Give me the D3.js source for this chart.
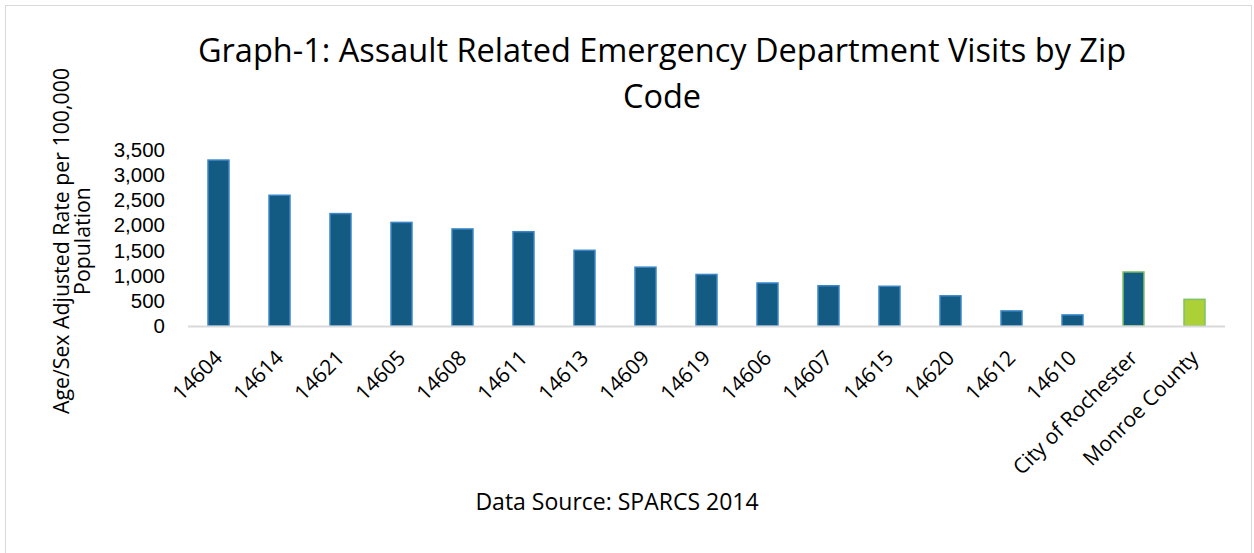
<!DOCTYPE html>
<html>
<head>
<meta charset="utf-8">
<script src="https://cdn.jsdelivr.net/npm/d3@7"></script>
<style>
  body { margin: 0; background: #fff; }
  text { font-family: "Open Sans", sans-serif; fill: #000; }
</style>
</head>
<body>
<div id="chart"></div>
<script>
var zipCodes = ["14604", "14614", "14621", "14605", "14608", "14611", "14613", "14609",
                "14619", "14606", "14607", "14615", "14620", "14612", "14610",
                "City of Rochester", "Monroe County"];
var visitRates = [3300, 2600, 2235, 2060, 1930, 1875, 1505, 1170,
                  1025, 855, 800, 790, 600, 300, 220,
                  1075, 530];
var yTicks = [0, 500, 1000, 1500, 2000, 2500, 3000, 3500];

var W = 1254, H = 553;

var svg = d3.select("#chart").append("svg")
  .attr("width", W)
  .attr("height", H);

svg.append("rect")
  .attr("width", W).attr("height", H)
  .attr("fill", "#fff");

// outer chart frame
svg.append("rect")
  .attr("x", 5.5).attr("y", 5.5)
  .attr("width", 1246).attr("height", 560)
  .attr("fill", "none")
  .attr("stroke", "#d9d9d9")
  .attr("stroke-width", 1);

var x = d3.scaleBand()
  .domain(zipCodes)
  .range([188, 1225])
  .paddingInner(0.656)
  .paddingOuter(0.328);

var y = d3.scaleLinear()
  .domain([0, 3500])
  .range([326, 150]);

// title
var title = svg.append("text")
  .attr("text-anchor", "middle")
  .style("font-size", "32.5px");
title.append("tspan").attr("x", 662).attr("y", 62)
  .text("Graph-1: Assault Related Emergency Department Visits by Zip");
title.append("tspan").attr("x", 662).attr("y", 108)
  .text("Code");

// y axis title
var yTitle = svg.append("text")
  .attr("transform", "translate(0,241) rotate(-90)")
  .attr("text-anchor", "middle")
  .style("font-size", "21.3px");
yTitle.append("tspan").attr("x", 0).attr("y", 69).text("Age/Sex Adjusted Rate per 100,000");
yTitle.append("tspan").attr("x", 0).attr("y", 90).text("Population");

// y axis ticks
var yAxis = d3.axisLeft(y)
  .tickValues(yTicks)
  .tickFormat(d3.format(","))
  .tickSize(0)
  .tickPadding(0);

var yg = svg.append("g")
  .attr("transform", "translate(165,0)")
  .call(yAxis);
yg.select(".domain").remove();
yg.selectAll("text")
  .style("font-size", "20.5px")
  .style("font-family", "'Liberation Sans', sans-serif")
  .attr("fill", "#000");

// bars
svg.selectAll("rect.bar")
  .data(zipCodes)
  .enter().append("rect")
  .attr("class", "bar")
  .attr("x", function (d) { return x(d); })
  .attr("width", x.bandwidth())
  .attr("y", function (d, i) { return y(visitRates[i]); })
  .attr("height", function (d, i) { return y(0) - y(visitRates[i]); })
  .attr("fill", function (d) { return d == "Monroe County" ? "#acd136" : "#145b84"; })
  .attr("stroke", function (d) {
    return (d == "Monroe County" || d == "City of Rochester") ? "#80c066" : "#3a86c8";
  })
  .attr("stroke-width", 1.5);

// category axis line
svg.append("line")
  .attr("x1", 188).attr("x2", 1225)
  .attr("y1", y(0) + 0.5).attr("y2", y(0) + 0.5)
  .attr("stroke", "#d9d9d9")
  .attr("stroke-width", 2);

// x labels
svg.selectAll("text.xlab")
  .data(zipCodes)
  .enter().append("text")
  .attr("class", "xlab")
  .attr("transform", function (d) {
    return "translate(" + (x(d) + x.bandwidth() / 2) + ",354) rotate(-45)";
  })
  .attr("text-anchor", "end")
  .attr("dy", "0.35em")
  .style("font-size", "21px")
  .text(function (d) { return d; });

// source note
svg.append("text")
  .attr("x", 617).attr("y", 510)
  .attr("text-anchor", "middle")
  .style("font-size", "23px")
  .text("Data Source: SPARCS 2014");
</script>
</body>
</html>
